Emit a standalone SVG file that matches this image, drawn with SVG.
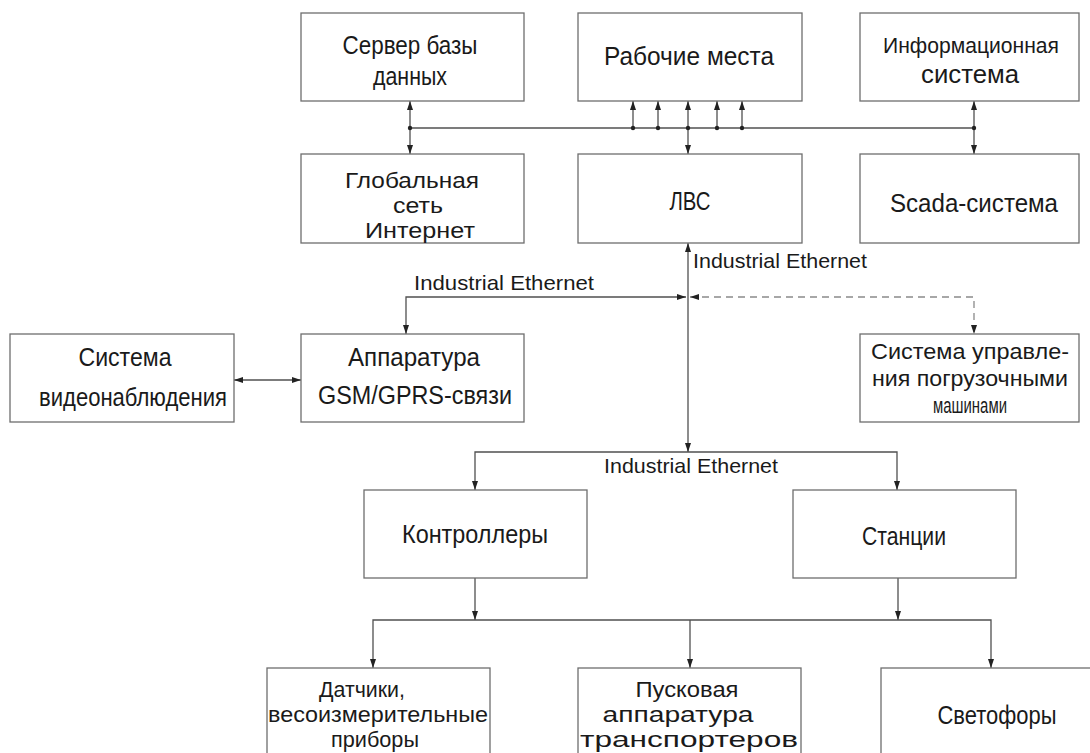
<svg xmlns="http://www.w3.org/2000/svg" width="1090" height="753" viewBox="0 0 1090 753">
<style>
.bg{fill:#fff}
.box{fill:#fff;stroke:#6e6e6e;stroke-width:1.3}
.t{font-family:"Liberation Sans","DejaVu Sans",sans-serif;font-size:25px;fill:#1a1a1a;text-anchor:middle}
.t3{font-family:"Liberation Sans","DejaVu Sans",sans-serif;font-size:22px;fill:#1a1a1a;text-anchor:middle}
.lbl{font-family:"Liberation Sans","DejaVu Sans",sans-serif;font-size:21px;fill:#1a1a1a}
.ln{fill:none;stroke:#505050;stroke-width:1.3}
.dash{fill:none;stroke:#8a8a8a;stroke-width:1.3;stroke-dasharray:7 5}
.dot{fill:#222}
</style>
<defs>
<marker id="ah" markerUnits="userSpaceOnUse" markerWidth="10" markerHeight="6" refX="9" refY="3" orient="auto-start-reverse">
<path d="M0,0 L9,3 L0,6 z" fill="#222"/>
</marker>
</defs>
<rect class="bg" x="0" y="0" width="1090" height="753"/>

<g id="connectors">
<path class="ln" d="M410,128 H974"/>
<path class="ln" d="M410,101 V154" marker-start="url(#ah)" marker-end="url(#ah)"/>
<path class="ln" d="M974,101 V154" marker-start="url(#ah)" marker-end="url(#ah)"/>
<path class="ln" d="M688,101 V154" marker-start="url(#ah)" marker-end="url(#ah)"/>
<path class="ln" d="M633,128 V101" marker-end="url(#ah)"/>
<path class="ln" d="M658,128 V101" marker-end="url(#ah)"/>
<path class="ln" d="M717,128 V101" marker-end="url(#ah)"/>
<path class="ln" d="M742,128 V101" marker-end="url(#ah)"/>
<circle class="dot" cx="410" cy="128" r="2.2"/>
<circle class="dot" cx="974" cy="128" r="2.2"/>
<circle class="dot" cx="633" cy="128" r="2.2"/>
<circle class="dot" cx="658" cy="128" r="2.2"/>
<circle class="dot" cx="688" cy="128" r="2.2"/>
<circle class="dot" cx="717" cy="128" r="2.2"/>
<circle class="dot" cx="742" cy="128" r="2.2"/>
<path class="ln" d="M688,243 V452" marker-start="url(#ah)" marker-end="url(#ah)"/>
<path class="ln" d="M686,297 H406 V334" marker-start="url(#ah)" marker-end="url(#ah)"/>
<path class="dash" d="M690,297 H974 V334" marker-start="url(#ah)" marker-end="url(#ah)"/>
<path class="ln" d="M234,380 H301" marker-start="url(#ah)" marker-end="url(#ah)"/>
<path class="ln" d="M475,490 V452 H897 V490" marker-start="url(#ah)" marker-end="url(#ah)"/>
<path class="ln" d="M475,578 V620" marker-end="url(#ah)"/>
<path class="ln" d="M898,578 V620" marker-end="url(#ah)"/>
<path class="ln" d="M373,668 V620 H991 V668" marker-start="url(#ah)" marker-end="url(#ah)"/>
<path class="ln" d="M690,620 V668" marker-end="url(#ah)"/>
<text class="lbl" x="693" y="268" textLength="174" lengthAdjust="spacingAndGlyphs">Industrial Ethernet</text>
<text class="lbl" x="414" y="290" textLength="180" lengthAdjust="spacingAndGlyphs">Industrial Ethernet</text>
<text class="lbl" x="604" y="473" textLength="174" lengthAdjust="spacingAndGlyphs">Industrial Ethernet</text>
</g>

<g id="server-db">
<rect class="box" x="301" y="13" width="223" height="88"/>
<text class="t" x="410" y="54" textLength="135" lengthAdjust="spacingAndGlyphs">Сервер базы</text>
<text class="t" x="410" y="85" textLength="74" lengthAdjust="spacingAndGlyphs">данных</text>
</g>
<g id="workstations">
<rect class="box" x="578" y="13" width="224" height="88"/>
<text class="t" x="689" y="65" textLength="170" lengthAdjust="spacingAndGlyphs">Рабочие места</text>
</g>
<g id="info-system">
<rect class="box" x="860" y="13" width="219" height="88"/>
<text class="t3" x="971" y="53" textLength="176" lengthAdjust="spacingAndGlyphs">Информационная</text>
<text class="t" x="970" y="83" textLength="98" lengthAdjust="spacingAndGlyphs">система</text>
</g>
<g id="internet">
<rect class="box" x="301" y="154" width="223" height="89"/>
<text class="t3" x="412" y="188" textLength="134" lengthAdjust="spacingAndGlyphs">Глобальная</text>
<text class="t3" x="418" y="213" textLength="50" lengthAdjust="spacingAndGlyphs">сеть</text>
<text class="t3" x="420" y="238" textLength="110" lengthAdjust="spacingAndGlyphs">Интернет</text>
</g>
<g id="lan">
<rect class="box" x="578" y="154" width="224" height="89"/>
<text class="t" x="690" y="210" textLength="41" lengthAdjust="spacingAndGlyphs">ЛВС</text>
</g>
<g id="scada">
<rect class="box" x="860" y="154" width="219" height="89"/>
<text class="t" x="974" y="212" textLength="168" lengthAdjust="spacingAndGlyphs">Scada-система</text>
</g>
<g id="video">
<rect class="box" x="10" y="334" width="224" height="88"/>
<text class="t" x="125" y="366" textLength="93" lengthAdjust="spacingAndGlyphs">Система</text>
<text class="t" x="133" y="406" textLength="188" lengthAdjust="spacingAndGlyphs">видеонаблюдения</text>
</g>
<g id="gsm">
<rect class="box" x="301" y="334" width="223" height="88"/>
<text class="t" x="414" y="366" textLength="132" lengthAdjust="spacingAndGlyphs">Аппаратура</text>
<text class="t" x="415" y="404" textLength="194" lengthAdjust="spacingAndGlyphs">GSM/GPRS-связи</text>
</g>
<g id="loader-control">
<rect class="box" x="860" y="334" width="219" height="88"/>
<text class="t3" x="970" y="359" textLength="198" lengthAdjust="spacingAndGlyphs">Система управле-</text>
<text class="t3" x="970" y="386" textLength="196" lengthAdjust="spacingAndGlyphs">ния погрузочными</text>
<text class="t3" x="970" y="413" textLength="74" lengthAdjust="spacingAndGlyphs">машинами</text>
</g>
<g id="controllers">
<rect class="box" x="364" y="490" width="223" height="88"/>
<text class="t" x="475" y="543" textLength="146" lengthAdjust="spacingAndGlyphs">Контроллеры</text>
</g>
<g id="stations">
<rect class="box" x="793" y="490" width="223" height="88"/>
<text class="t" x="904" y="545" textLength="84" lengthAdjust="spacingAndGlyphs">Станции</text>
</g>
<g id="sensors">
<rect class="box" x="267" y="668" width="223" height="100"/>
<text class="t3" x="362" y="697" textLength="86" lengthAdjust="spacingAndGlyphs">Датчики,</text>
<text class="t3" x="378" y="722" textLength="220" lengthAdjust="spacingAndGlyphs">весоизмерительные</text>
<text class="t3" x="375" y="747" textLength="88" lengthAdjust="spacingAndGlyphs">приборы</text>
</g>
<g id="starters">
<rect class="box" x="578" y="668" width="223" height="100"/>
<text class="t3" x="687" y="697" textLength="103" lengthAdjust="spacingAndGlyphs">Пусковая</text>
<text class="t3" x="678" y="722" textLength="151" lengthAdjust="spacingAndGlyphs">аппаратура</text>
<text class="t3" x="689" y="747" textLength="218" lengthAdjust="spacingAndGlyphs">транспортеров</text>
</g>
<g id="traffic-lights">
<rect class="box" x="881" y="668" width="223" height="100"/>
<text class="t" x="997" y="724" textLength="119" lengthAdjust="spacingAndGlyphs">Светофоры</text>
</g>
</svg>
